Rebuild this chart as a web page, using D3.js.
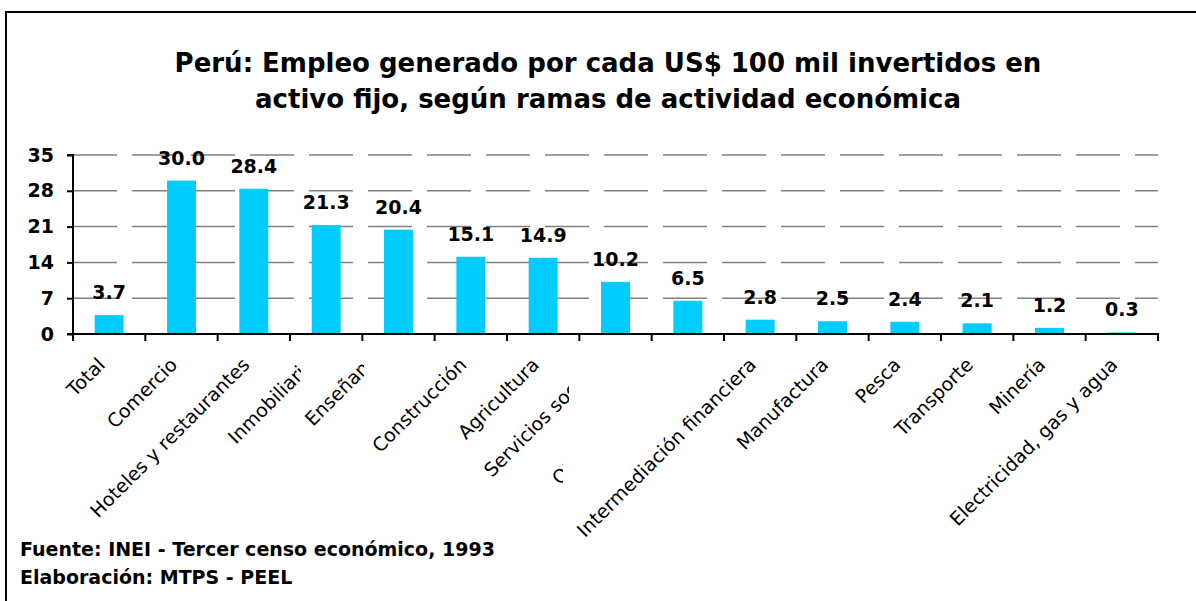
<!DOCTYPE html>
<html>
<head>
<meta charset="utf-8">
<script src="https://cdn.jsdelivr.net/npm/d3@7"></script>
<style>
  body { margin: 0; background: #fff; }
  svg { display: block; font-family: "DejaVu Sans", Verdana, sans-serif; }
</style>
</head>
<body>
<div id="chart"></div>
<script>
// Datos: empleo por cada US$ 100 mil invertidos en activo fijo
const ramas = ["Total", "Comercio", "Hoteles y restaurantes", "Inmobiliaria", "Enseñanza",
  "Construcción", "Agricultura", "Servicios sociales", "Otras actividades",
  "Intermediación financiera", "Manufactura", "Pesca", "Transporte", "Minería",
  "Electricidad, gas y agua"];
const empleo = [3.7, 30.0, 28.4, 21.3, 20.4, 15.1, 14.9, 10.2, 6.5, 2.8, 2.5, 2.4, 2.1, 1.2, 0.3];
const ticksY = [0, 7, 14, 21, 28, 35];
const titulo = ["Perú: Empleo generado por cada US$ 100 mil invertidos en",
  "activo fijo, según ramas de actividad económica"];
const notas = ["Fuente: INEI - Tercer censo económico, 1993", "Elaboración: MTPS - PEEL"];

const width = 1196, height = 601;
const mLeft = 73, mRight = 1158, mTop = 155, mBottom = 334;

const svg = d3.select("#chart").append("svg")
  .attr("width", width)
  .attr("height", height);

// marco
svg.append("rect")
  .attr("x", 6).attr("y", 12)
  .attr("width", width + 10).attr("height", height + 10)
  .attr("fill", "none").attr("stroke", "#000").attr("stroke-width", 2);

// titulo
svg.selectAll("text.titulo")
  .data(titulo)
  .enter().append("text")
  .attr("class", "titulo")
  .attr("x", 608)
  .attr("y", (d, i) => 72 + i * 36)
  .attr("text-anchor", "middle")
  .style("font-size", "26px")
  .style("font-weight", "bold")
  .text(d => d);

const x = d3.scaleBand()
  .domain(ramas)
  .range([mLeft, mRight])
  .paddingInner(0.6)
  .paddingOuter(0.3);

const y = d3.scaleLinear()
  .domain([0, 35])
  .range([mBottom, mTop]);

// lineas de division
svg.append("g")
  .selectAll("line")
  .data(ticksY.slice(1))
  .enter().append("line")
  .attr("x1", mLeft).attr("x2", mRight)
  .attr("y1", d => y(d)).attr("y2", d => y(d))
  .attr("stroke", "#808080")
  .attr("stroke-width", 1.5)
  .attr("stroke-dasharray", "44,15");

// barras
svg.append("g")
  .selectAll("rect")
  .data(empleo)
  .enter().append("rect")
  .attr("x", (d, i) => x(ramas[i]))
  .attr("y", d => y(d))
  .attr("width", x.bandwidth())
  .attr("height", d => mBottom - y(d))
  .attr("fill", "#00CCFF");

// etiquetas de valor
svg.append("g")
  .selectAll("text")
  .data(empleo)
  .enter().append("text")
  .attr("x", (d, i) => x(ramas[i]) + x.bandwidth() / 2)
  .attr("y", d => y(d) - 16)
  .attr("text-anchor", "middle")
  .style("font-size", "19px")
  .style("font-weight", "bold")
  .text(d => d.toFixed(1));

// eje Y
const ejeY = svg.append("g")
  .attr("transform", `translate(${mLeft},0)`)
  .call(d3.axisLeft(y).tickValues(ticksY).tickSize(6).tickPadding(13));
ejeY.select(".domain").attr("stroke-width", 2).attr("d", `M-6,${mTop}H0V${mBottom}`);
ejeY.selectAll(".tick line").attr("stroke-width", 2);
ejeY.selectAll(".tick text")
  .style("font-size", "19px")
  .style("font-weight", "bold")
  .attr("fill", "#000")
  .style("font-family", "DejaVu Sans, sans-serif");

// eje X con marcas entre categorias
const ejeX = svg.append("g");
ejeX.append("line")
  .attr("x1", mLeft - 6).attr("x2", mRight + 1)
  .attr("y1", mBottom).attr("y2", mBottom)
  .attr("stroke", "#000").attr("stroke-width", 2);
ejeX.selectAll("line.marca")
  .data(d3.range(ramas.length + 1))
  .enter().append("line")
  .attr("class", "marca")
  .attr("x1", i => mLeft + i * (mRight - mLeft) / ramas.length)
  .attr("x2", i => mLeft + i * (mRight - mLeft) / ramas.length)
  .attr("y1", mBottom).attr("y2", mBottom + 7)
  .attr("stroke", "#000").attr("stroke-width", 2);

// etiquetas que en el original salen desplazadas y cortadas:
// se anclan por su inicio y se recortan a la derecha
const cortadas = {
  "Inmobiliaria": { x0: 236, y0: 445, corte: 301 },
  "Enseñanza": { x0: 313, y0: 427, corte: 364 },
  "Servicios sociales": { x0: 492, y0: 478, corte: 569 },
  "Otras actividades": { x0: 560, y0: 486, corte: 563 }
};
const defs = svg.append("defs");
Object.keys(cortadas).forEach((k, j) => {
  defs.append("clipPath").attr("id", "clip" + j)
    .append("rect").attr("x", 0).attr("y", 0).attr("width", cortadas[k].corte).attr("height", height);
});

const etiquetas = svg.append("g");
ramas.forEach((r, i) => {
  const cx = x(r) + x.bandwidth() / 2;
  const k = Object.keys(cortadas).indexOf(r);
  const g = etiquetas.append("g");
  const t = g.append("text")
    .style("font-size", "19px")
    .text(r);
  if (k >= 0) {
    const c = cortadas[r];
    g.attr("clip-path", `url(#clip${k})`);
    t.attr("transform", `translate(${c.x0},${c.y0}) rotate(-45)`)
      .attr("text-anchor", "start");
  } else {
    t.attr("transform", `translate(${cx - 3},366) rotate(-45)`)
      .attr("text-anchor", "end");
  }
});

// notas
svg.selectAll("text.nota")
  .data(notas)
  .enter().append("text")
  .attr("class", "nota")
  .attr("x", 20)
  .attr("y", (d, i) => 556 + i * 28)
  .style("font-size", "19px")
  .style("font-weight", "bold")
  .text(d => d);
</script>
</body>
</html>
